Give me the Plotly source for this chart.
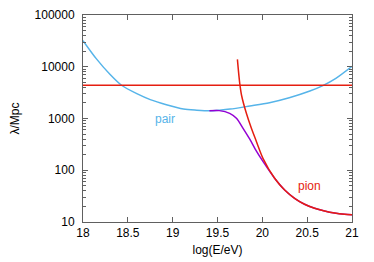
import plotly.graph_objects as go

# pair production attenuation length (Mpc)
pair_logE = [18.0, 18.15, 18.30, 18.43, 18.60, 18.75, 18.93, 19.12, 19.27, 19.41, 19.52, 19.64, 19.86, 20.08, 20.30, 20.53, 20.675, 20.82, 21.0]
pair_lam = [32000, 14200, 7160, 4390, 3020, 2320, 1850, 1530, 1450, 1410, 1450, 1520, 1745, 2020, 2520, 3400, 4330, 5970, 10200]

# pion production attenuation length (Mpc)
pion_logE = [19.722, 19.748, 19.770, 19.822, 19.878, 19.915, 19.948, 20.007, 20.137, 20.249, 20.36, 20.471, 20.583, 20.694, 20.805, 20.917, 21.0]
pion_lam = [13900, 4790, 2720, 1260, 647, 440, 308, 170, 70, 41.5, 28.7, 22, 18.4, 16.3, 14.9, 14.1, 13.8]

# combined attenuation length (Mpc)
total_logE = [19.41, 19.52, 19.636, 19.711, 19.785, 19.86, 19.934, 20.007, 20.137, 20.249, 20.36, 20.471, 20.583, 20.694, 20.805, 20.917, 21.0]
total_lam = [1410, 1420, 1260, 1010, 646, 398, 234, 148, 70, 41.5, 28.7, 22, 18.4, 16.3, 14.9, 14.1, 13.8]

# horizontal reference level
ref_E = [18.0, 21.0]
ref_lam = [4400, 4400]

BLUE = "#56b4e9"
RED = "#e51e10"
PURPLE = "#9400d3"

fig = go.Figure()
fig.add_trace(go.Scatter(x=pair_logE, y=pair_lam, mode="lines", line=dict(color=BLUE, width=1.5, shape="spline", smoothing=0.8)))
fig.add_trace(go.Scatter(x=total_logE, y=total_lam, mode="lines", line=dict(color=PURPLE, width=1.5, shape="spline", smoothing=0.8)))
fig.add_trace(go.Scatter(x=pion_logE, y=pion_lam, mode="lines", line=dict(color=RED, width=1.5, shape="spline", smoothing=0.8)))
fig.add_trace(go.Scatter(x=ref_E, y=ref_lam, mode="lines", line=dict(color=RED, width=1.5)))

fig.add_annotation(x=18.913, y=3.0, text="pair", showarrow=False, font=dict(color=BLUE, size=12), xref="x", yref="y")
fig.add_annotation(x=20.527, y=1.70, text="pion", showarrow=False, font=dict(color=RED, size=12), xref="x", yref="y")

axis_common = dict(showline=True, linecolor="#606060", linewidth=1, mirror="ticks", ticks="inside",
                   tickcolor="#606060", showgrid=False, zeroline=False, automargin=False,
                   tickfont=dict(color="black", size=12))
fig.update_xaxes(range=[18, 21], dtick=0.5, ticklen=5,
                 title=dict(text="log(E/eV)", font=dict(size=12, color="black"), standoff=6), **axis_common)
fig.update_yaxes(type="log", range=[1, 5], dtick=1, tickformat="d", ticklen=5, ticklabelstandoff=5,
                 minor=dict(ticks="inside", ticklen=3, tickcolor="#606060", dtick="D1"),
                 title=dict(text="λ/Mpc", font=dict(size=12, color="black"), standoff=12), **axis_common)

# page has an 8px body margin, so the figure is sized to keep the plot area in place
fig.update_layout(width=366, height=254, margin=dict(l=75, r=22, t=7, b=40),
                  showlegend=False, plot_bgcolor="white", paper_bgcolor="white",
                  font=dict(family="Liberation Sans, Arial, sans-serif", size=12, color="black"))

fig.write_html("out.html")
